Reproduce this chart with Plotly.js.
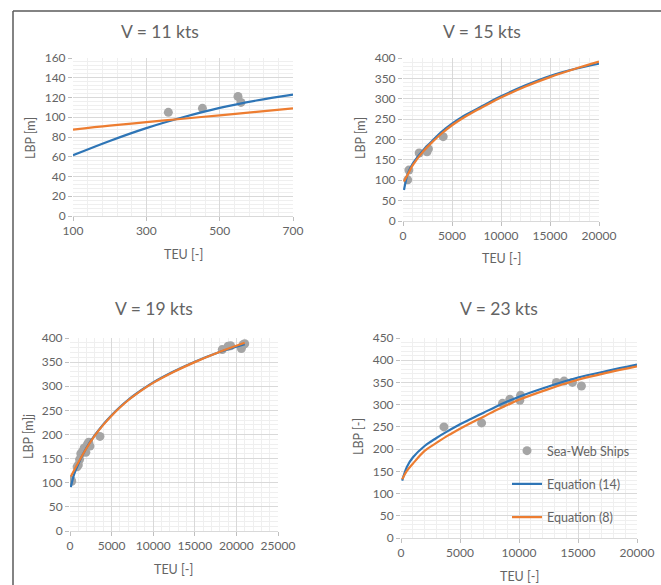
<!DOCTYPE html>
<html>
<head>
<meta charset="utf-8">
<script src="https://cdn.plot.ly/plotly-3.0.1.min.js"></script>
<style>html,body{margin:0;padding:0;background:#fff;}#chart{width:661px;height:585px;}</style>
</head>
<body>
<div id="chart"></div>
<script>
// ---- Data ----
// V = 11 kts
const ships11_teu = [360, 453, 550, 558];
const ships11_lbp = [105, 109, 121, 115];
const curve11_teu = [100, 200, 300, 400, 500, 600, 700];
const eq14_11 = [61.5, 76, 89, 100, 109.5, 117, 123];
const eq8_11  = [87.5, 91.5, 95, 98.5, 102, 105.5, 109];

// V = 15 kts
const ships15_teu = [480, 600, 1650, 2450, 2600, 4100];
const ships15_lbp = [101, 125, 167, 170, 177, 207];
const curve15_teu = [100, 500, 1000, 2000, 3000, 4000, 5000, 6000, 7000, 8000, 9000, 10000, 12500, 15000, 17500, 20000];
const eq14_15 = [76, 117, 141, 172, 197, 220, 239, 255, 268, 281, 294, 306, 333, 356, 373, 386];
const eq8_15  = [97, 115, 137, 169, 194, 216, 235, 251, 265, 278, 291, 303, 330, 353, 373, 391];

// V = 19 kts
const ships19_teu = [150, 200, 850, 1000, 1150, 1300, 1500, 1700, 1900, 2100, 2250, 2400, 3600, 18300, 19000, 19300, 20600, 20800, 21000];
const ships19_lbp = [105, 103, 133, 137, 148, 160, 165, 172, 163, 180, 184, 176, 196, 376, 383, 384, 378, 386, 388];
const curve19_teu = [100, 500, 1000, 2000, 3000, 4000, 5000, 6000, 7000, 8000, 9000, 10000, 12500, 15000, 17500, 21000];
const eq14_19 = [91, 118, 139, 173, 199, 221, 240, 257, 272, 285, 297, 308, 331, 351, 368, 387];
const eq8_19  = [113, 126, 142, 172, 198, 220, 239, 256, 271, 284, 296, 307, 330, 350, 368, 390];

// V = 23 kts
const ships23_teu = [3640, 6830, 8600, 9220, 10130, 10070, 13170, 13820, 14530, 15290];
const ships23_lbp = [250, 259, 303, 312, 321, 310, 350, 353, 350, 342];
const curve23_teu = [100, 500, 1000, 2000, 3000, 4000, 5000, 6000, 7000, 8000, 9000, 10000, 12500, 15000, 17500, 20000];
const eq14_23 = [129, 160, 181, 207, 225, 241, 256, 269, 282, 295, 307, 318, 341, 361, 376, 390];
const eq8_23  = [132, 151, 167, 196, 214, 231, 246, 260, 273, 287, 299, 311, 335, 356, 372, 386];

const titles = ["V = 11 kts", "V = 15 kts", "V = 19 kts", "V = 23 kts"];
const yTitles = ["LBP [m]", "LBP [m]", "LBP [m]j", "LBP [-]"];
const xTitle = "TEU [-]";
const legendNames = ["Sea-Web Ships", "Equation (14)", "Equation (8)"];

// ---- Styling ----
const W = 661, H = 585;
const px = x => x / W;
const py = y => 1 - y / H;
const BLUE = "#2e75b6", ORANGE = "#ed7d31", GRAY = "#a5a5a5", TXT = "#646464";
const FONT = "Lato, 'Open Sans', sans-serif";

const panels = [
  {ships:[ships11_teu, ships11_lbp], cx:curve11_teu, e14:eq14_11, e8:eq8_11},
  {ships:[ships15_teu, ships15_lbp], cx:curve15_teu, e14:eq14_15, e8:eq8_15},
  {ships:[ships19_teu, ships19_lbp], cx:curve19_teu, e14:eq14_19, e8:eq8_19},
  {ships:[ships23_teu, ships23_lbp], cx:curve23_teu, e14:eq14_23, e8:eq8_23}
];

const traces = [];
panels.forEach((p, i) => {
  const xa = i === 0 ? "x" : "x" + (i + 1);
  const ya = i === 0 ? "y" : "y" + (i + 1);
  const leg = i === 3;
  traces.push({x:p.ships[0], y:p.ships[1], xaxis:xa, yaxis:ya, type:"scatter", mode:"markers",
    name:legendNames[0], showlegend:leg, legendgroup:"a",
    marker:{color:GRAY, size:9}});
  traces.push({x:p.cx, y:p.e14, xaxis:xa, yaxis:ya, type:"scatter", mode:"lines",
    name:legendNames[1], showlegend:leg, legendgroup:"b",
    line:{color:BLUE, width:2.2, shape:"spline", smoothing:1}});
  traces.push({x:p.cx, y:p.e8, xaxis:xa, yaxis:ya, type:"scatter", mode:"lines",
    name:legendNames[2], showlegend:leg, legendgroup:"c",
    line:{color:ORANGE, width:2.2, shape:"spline", smoothing:1}});
});

// plot area pixel boxes [x0, x1, yTop, yBottom]
const boxes = [[73, 293, 58, 216], [403, 599, 58, 221], [70, 278, 338, 531], [401, 637, 338, 538]];
const ranges = [
  {x:[100, 700], xd:200, xt0:100, xm:40, y:[0, 160], yd:20, ym:4},
  {x:[0, 20000], xd:5000, xt0:0, xm:1000, y:[0, 400], yd:50, ym:10},
  {x:[0, 25000], xd:5000, xt0:0, xm:1000, y:[0, 400], yd:50, ym:10},
  {x:[0, 20000], xd:5000, xt0:0, xm:1000, y:[0, 450], yd:50, ym:10}
];

const layout = {
  width: W, height: H,
  margin: {l:0, r:0, t:0, b:0},
  paper_bgcolor: "#fff", plot_bgcolor: "#fff",
  font: {family: FONT, color: TXT, size: 12},
  showlegend: true,
  legend: {x: px(507), y: py(436), xanchor: "left", yanchor: "top",
    bgcolor: "rgba(0,0,0,0)", font: {size: 12.5, color: TXT, family: FONT},
    tracegroupgap: 14, itemwidth: 30},
  annotations: [],
  shapes: [
    {type:"line", xref:"paper", yref:"paper", x0:px(13), x1:px(13), y0:py(11), y1:0, line:{color:"#5a5a5a", width:1.5}},
    {type:"line", xref:"paper", yref:"paper", x0:px(13), x1:1, y0:py(11), y1:py(11), line:{color:"#5a5a5a", width:1.5}}
  ]
};

boxes.forEach((b, i) => {
  const r = ranges[i];
  const sx = i === 0 ? "" : String(i + 1);
  const common = {
    showgrid: true, gridcolor: "#d9d9d9", gridwidth: 1,
    zeroline: false, showline: false,
    ticks: "outside", ticklen: 4, tickcolor: "#bfbfbf",
    tickfont: {size: 12, color: TXT, family: FONT},
    tickformat: "d",
    fixedrange: true
  };
  layout["xaxis" + sx] = Object.assign({}, common, {
    domain: [px(b[0]), px(b[1])], anchor: "y" + sx,
    range: r.x, tick0: r.xt0, dtick: r.xd, tickmode: "linear",
    minor: {dtick: r.xm, tick0: r.xt0, showgrid: true, gridcolor: "#efefef", gridwidth: 1},
    showline: true, linecolor: "#d9d9d9", linewidth: 1, mirror: false
  });
  layout["yaxis" + sx] = Object.assign({}, common, {
    domain: [py(b[3]), py(b[2])], anchor: "x" + sx,
    range: r.y, tick0: 0, dtick: r.yd, tickmode: "linear",
    minor: {dtick: r.ym, tick0: 0, showgrid: true, gridcolor: "#efefef", gridwidth: 1}
  });
});

const titlePos = [[160, 31], [482, 31], [154, 308], [499, 308]];
const yTitlePos = [[30, 138], [360, 138], [28, 437], [358, 437]];
const xTitlePos = [[183, 254], [501, 258], [173, 569], [519, 576]];
for (let i = 0; i < 4; i++) {
  layout.annotations.push({text: titles[i], xref:"paper", yref:"paper",
    x: px(titlePos[i][0]), y: py(titlePos[i][1]), xanchor:"center", yanchor:"middle",
    showarrow:false, font:{size:17.5, color:TXT, family:FONT}});
  layout.annotations.push({text: yTitles[i], xref:"paper", yref:"paper", textangle:-90,
    x: px(yTitlePos[i][0]), y: py(yTitlePos[i][1]), xanchor:"center", yanchor:"middle",
    showarrow:false, font:{size:12.5, color:TXT, family:FONT}});
  layout.annotations.push({text: xTitle, xref:"paper", yref:"paper",
    x: px(xTitlePos[i][0]), y: py(xTitlePos[i][1]), xanchor:"center", yanchor:"middle",
    showarrow:false, font:{size:12.5, color:TXT, family:FONT}});
}

Plotly.newPlot("chart", traces, layout, {staticPlot: true, displayModeBar: false});
</script>
</body>
</html>
